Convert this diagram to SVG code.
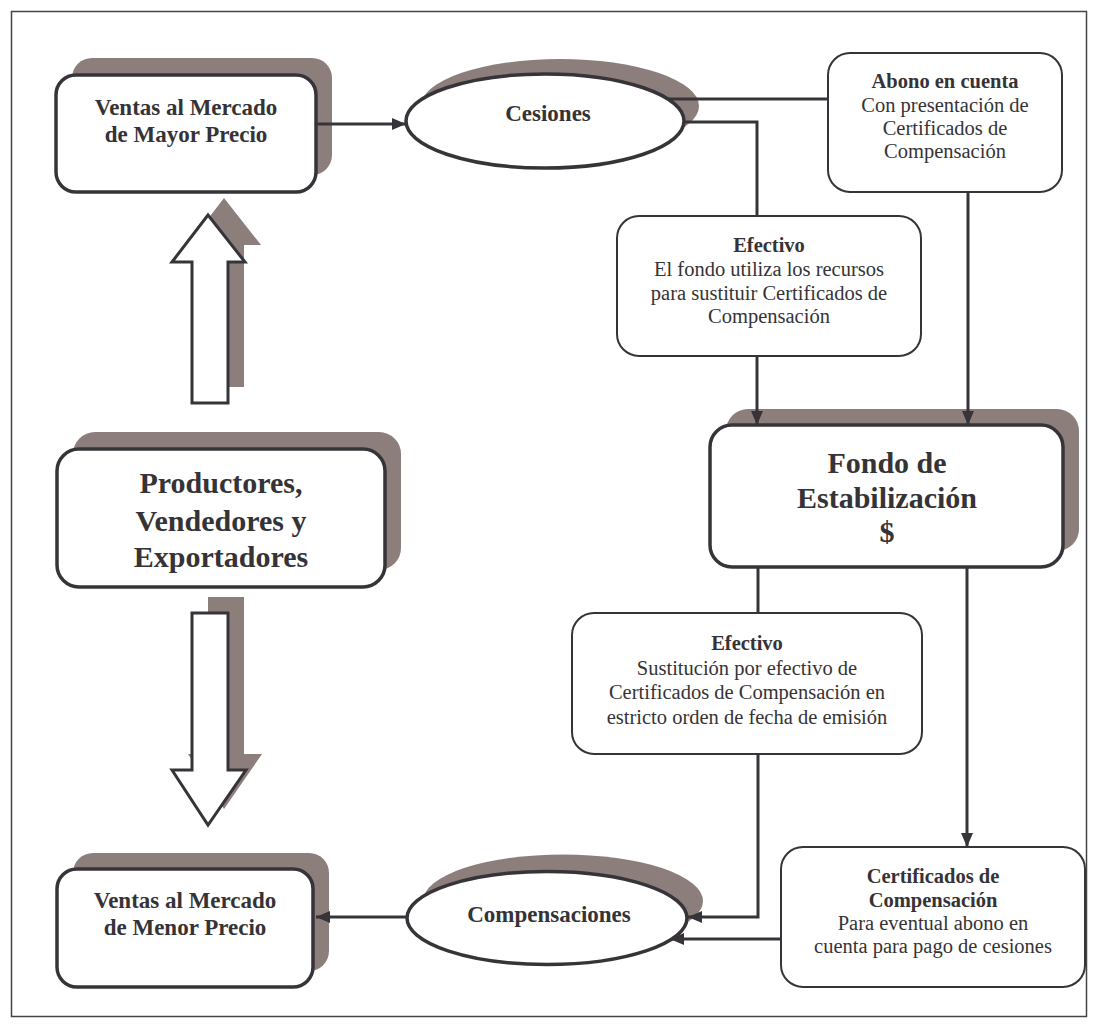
<svg xmlns="http://www.w3.org/2000/svg" width="1098" height="1026" viewBox="0 0 1098 1026">
<defs>
<style>
.sh{fill:#8c7f7b}
.main{fill:#fff;stroke:#363438;stroke-width:3.5}
.box{fill:#fff;stroke:#363438;stroke-width:2}
.blk{fill:#fff;stroke:#363438;stroke-width:3}
.conn{fill:none;stroke:#363438;stroke-width:3}
text{font-family:"Liberation Serif","Times New Roman",serif;fill:#353336;text-anchor:middle}
.b{font-weight:bold}
.t23{font-size:23px}
.t30{font-size:30px}
.t20{font-size:20.5px}
</style>
<marker id="ah" viewBox="0 0 14 12" refX="14" refY="6" markerWidth="14" markerHeight="12" markerUnits="userSpaceOnUse" orient="auto">
<path d="M0,0 L14,6 L0,12 z" fill="#363438"/>
</marker>
</defs>
<rect x="0" y="0" width="1098" height="1026" fill="#fff"/>
<rect x="11.5" y="11.5" width="1075" height="1005" fill="none" stroke="#444" stroke-width="1.5"/>

<!-- shadows -->
<g id="shadows">
<rect class="sh" x="72" y="58" width="260" height="117" rx="20"/>
<ellipse class="sh" cx="560" cy="106" rx="139" ry="47"/>
<polygon class="sh" points="224,198 261,245 244,245 244,387 208,387 208,245 188,245"/>
<rect class="sh" x="73" y="432" width="328" height="138" rx="22"/>
<polygon class="sh" points="208,597 244,597 244,754 262,754 224,809 188,754 208,754"/>
<rect class="sh" x="726" y="409" width="353" height="142" rx="22"/>
<rect class="sh" x="73" y="853" width="256" height="118" rx="20"/>
<ellipse class="sh" cx="563" cy="901" rx="140" ry="46.5"/>
</g>

<g id="connectors">
<path class="conn" d="M316,124 L406,124" marker-end="url(#ah)"/>
<path class="conn" d="M668,99 L828,99"/>
<path class="conn" d="M684,122 L757,122 L757,216"/>
<path class="conn" d="M757,356 L757,425" marker-end="url(#ah)"/>
<path class="conn" d="M968,192 L968,425" marker-end="url(#ah)"/>
<path class="conn" d="M758,567 L758,613"/>
<path class="conn" d="M758,754 L758,917 L688,917" marker-end="url(#ah)"/>
<path class="conn" d="M967,567 L967,847" marker-end="url(#ah)"/>
<path class="conn" d="M781,939 L670,939" marker-end="url(#ah)"/>
<path class="conn" d="M407,917 L316,917" marker-end="url(#ah)"/>
</g>

<g id="ventas-mayor">
<rect class="main" x="56" y="75" width="260" height="117" rx="20"/>
<text class="b t23" x="186" y="115">Ventas al Mercado</text>
<text class="b t23" x="186" y="142">de Mayor Precio</text>
</g>

<g id="cesiones">
<ellipse class="main" cx="545" cy="121" rx="139" ry="47"/>
<text class="b t23" x="548" y="121">Cesiones</text>
</g>

<g id="abono">
<rect class="box" x="828" y="53" width="234" height="139" rx="22"/>
<text class="b t20" x="945" y="88">Abono en cuenta</text>
<text class="t20" x="945" y="112">Con presentación de</text>
<text class="t20" x="945" y="135">Certificados de</text>
<text class="t20" x="945" y="158">Compensación</text>
</g>

<g id="efectivo1">
<rect class="box" x="617" y="216" width="304" height="140" rx="22"/>
<text class="b t20" x="769" y="252">Efectivo</text>
<text class="t20" x="769" y="276">El fondo utiliza los recursos</text>
<text class="t20" x="769" y="300">para sustituir Certificados de</text>
<text class="t20" x="769" y="323">Compensación</text>
</g>

<g id="arrow-up">
<polygon class="blk" points="208,215 245,262 228,262 228,403 192,403 192,262 172,262"/>
</g>

<g id="productores">
<rect class="main" x="57" y="449" width="328" height="138" rx="22"/>
<text class="b t30" x="221" y="493">Productores,</text>
<text class="b t30" x="221" y="531">Vendedores y</text>
<text class="b t30" x="221" y="567">Exportadores</text>
</g>

<g id="fondo">
<rect class="main" x="710" y="425" width="353" height="142" rx="22"/>
<text class="b t30" x="887" y="473">Fondo de</text>
<text class="b t30" x="887" y="508">Estabilización</text>
<text class="b t30" x="887" y="542">$</text>
</g>

<g id="arrow-down">
<polygon class="blk" points="192,613 228,613 228,770 246,770 208,825 172,770 192,770"/>
</g>

<g id="efectivo2">
<rect class="box" x="572" y="613" width="350" height="141" rx="22"/>
<text class="b t20" x="747" y="650">Efectivo</text>
<text class="t20" x="747" y="675">Sustitución por efectivo de</text>
<text class="t20" x="747" y="699">Certificados de Compensación en</text>
<text class="t20" x="747" y="724">estricto orden de fecha de emisión</text>
</g>

<g id="ventas-menor">
<rect class="main" x="57" y="869" width="256" height="118" rx="20"/>
<text class="b t23" x="185" y="908">Ventas al Mercado</text>
<text class="b t23" x="185" y="935">de Menor Precio</text>
</g>

<g id="compensaciones">
<ellipse class="main" cx="547" cy="918" rx="140" ry="46.5"/>
<text class="b t23" x="549" y="922">Compensaciones</text>
</g>

<g id="certificados">
<rect class="box" x="781" y="847" width="304" height="140" rx="22"/>
<text class="b t20" x="933" y="883">Certificados de</text>
<text class="b t20" x="933" y="907">Compensación</text>
<text class="t20" x="933" y="930">Para eventual abono en</text>
<text class="t20" x="933" y="953">cuenta para pago de cesiones</text>
</g>
</svg>
